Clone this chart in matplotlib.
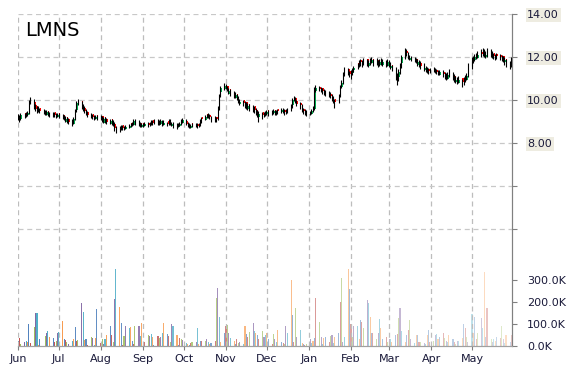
import matplotlib
matplotlib.use("Agg")
import matplotlib.pyplot as plt
import matplotlib.dates as mdates
from matplotlib.colors import to_rgba
import pandas as pd
import numpy as np

title = "LMNS"
start_date = "2016-06-01"

opens = [
    9.05, 9.25, 9.1, 9.4, 9.2, 9.3, 9.6, 9.85, 9.9, 9.75, 9.7, 9.45, 9.65, 9.55, 9.5, 9.3, 9.5, 9.4, 9.2, 9.45, 9.35, 9.2,
    9.4, 9.1, 9.3, 9.0, 9.2, 9.1, 9.05, 8.9, 9.2, 9.55, 9.75, 9.95, 9.5, 9.65, 9.55, 9.45, 9.15, 9.35, 9.05, 9.1, 9.3,
    9.05, 9.25, 8.95, 9.2, 9.1, 8.9, 9.1, 9.0, 8.9, 8.75, 8.5, 8.6, 8.85, 8.6, 8.65, 8.7, 8.95, 8.8, 8.85, 9.05, 8.8, 8.95, 8.75,
    8.95, 8.8, 8.95, 8.8, 8.85, 9.05, 8.9, 9.05, 8.85, 8.9, 9.0, 8.85, 9.0, 8.85, 9.05, 8.8, 8.95, 8.9, 8.75, 8.8, 8.9, 8.95,
    9.0, 8.75, 8.9, 8.7, 8.95, 8.75, 8.9, 8.75, 8.9, 9.2, 9.05, 9.35, 9.15, 9.3, 9.2, 9.0, 9.2, 9.1, 9.7, 10.35, 10.5,
    10.7, 10.65, 10.3, 10.5, 10.3, 10.1, 10.3, 10.15, 9.8, 10.0, 9.65, 9.9, 9.6, 9.8, 9.5, 9.7, 9.6, 9.55, 9.2, 9.45, 9.2, 9.3,
    9.35, 9.55, 9.3, 9.4, 9.55, 9.35, 9.6, 9.45, 9.6, 9.55, 9.35, 9.45, 9.55, 9.75, 9.95, 10.1, 9.95, 9.85, 9.7, 9.6, 9.35, 9.5,
    9.3, 9.35, 9.45, 9.6, 10.4, 10.6, 10.35, 10.55, 10.25, 10.4, 10.15, 10.3, 10.25, 9.9, 10.05, 9.85, 10.25, 10.6, 10.85, 11.15, 11.45, 11.35,
    11.05, 11.25, 11.4, 11.7, 11.55, 11.85, 11.6, 11.7, 11.9, 11.6, 11.7, 11.7, 11.9, 11.65, 11.85, 11.65, 11.9, 11.65, 11.8, 11.6,
    11.8, 11.5, 11.65, 11.45, 11.15, 11.05, 11.4, 11.7, 12.05, 12.3, 12.15, 11.85, 12.0, 11.75, 11.9, 11.65, 11.8, 11.7, 11.4, 11.55, 11.3, 11.45, 11.3,
    11.5, 11.25, 11.4, 11.35, 11.15, 11.3, 11.25, 11.2, 11.0, 11.35, 11.2, 11.1, 10.85, 11.0, 10.8, 11.0, 10.75, 10.85, 10.95, 11.15,
    11.55, 11.95, 11.85, 12.15, 11.95, 12.25, 12.05, 12.3, 12.0, 12.05, 12.3, 12.0, 12.2, 11.9, 12.15, 12.1, 11.85, 12.05, 11.75, 11.9, 11.75, 11.55,
]

closes = [
    9.2, 9.1, 9.3, 9.25, 9.35, 9.4, 9.9, 10.0, 9.7, 9.6, 9.55, 9.6, 9.5, 9.45, 9.4, 9.45, 9.35, 9.3, 9.35, 9.3, 9.25, 9.3,
    9.25, 9.2, 9.15, 9.1, 9.05, 9.0, 8.95, 9.1, 9.5, 9.85, 9.9, 9.7, 9.6, 9.5, 9.4, 9.3, 9.25, 9.2, 9.15, 9.2, 9.15,
    9.15, 9.1, 9.1, 9.05, 9.0, 9.0, 8.95, 8.9, 8.7, 8.6, 8.65, 8.75, 8.7, 8.7, 8.75, 8.8, 8.85, 8.9, 9.0, 8.95, 8.9, 8.85, 8.85,
    8.85, 8.9, 8.85, 8.9, 8.95, 8.95, 9.0, 8.95, 8.95, 9.0, 8.9, 8.95, 8.9, 9.0, 8.95, 8.9, 8.85, 8.8, 8.85, 8.9, 9.0, 9.05,
    8.9, 8.85, 8.8, 8.8, 8.85, 8.85, 8.8, 8.85, 9.0, 9.1, 9.2, 9.25, 9.3, 9.2, 9.1, 9.15, 9.1, 9.6, 10.2, 10.55, 10.65,
    10.6, 10.5, 10.4, 10.35, 10.2, 10.25, 10.15, 10.0, 9.9, 9.85, 9.8, 9.75, 9.7, 9.65, 9.6, 9.55, 9.5, 9.4, 9.35, 9.3, 9.35, 9.4,
    9.45, 9.4, 9.45, 9.5, 9.4, 9.45, 9.5, 9.55, 9.5, 9.45, 9.5, 9.55, 9.7, 10.0, 10.1, 9.95, 9.8, 9.75, 9.6, 9.5, 9.45, 9.4,
    9.4, 9.5, 9.6, 10.4, 10.55, 10.5, 10.45, 10.4, 10.35, 10.3, 10.25, 10.2, 10.1, 10.0, 9.9, 10.2, 10.6, 10.8, 11.2, 11.4, 11.3, 11.2,
    11.2, 11.35, 11.5, 11.6, 11.7, 11.75, 11.7, 11.8, 11.75, 11.7, 11.8, 11.85, 11.75, 11.8, 11.7, 11.75, 11.8, 11.75, 11.7, 11.75,
    11.7, 11.6, 11.5, 11.2, 11.0, 11.3, 11.6, 12.0, 12.25, 12.2, 12.0, 11.95, 11.9, 11.85, 11.8, 11.75, 11.7, 11.6, 11.5, 11.45, 11.4, 11.35, 11.4,
    11.4, 11.35, 11.3, 11.25, 11.3, 11.2, 11.15, 11.1, 11.15, 11.2, 11.1, 11.0, 10.95, 10.9, 10.95, 10.85, 10.9, 11.0, 11.1, 11.5,
    11.8, 11.9, 12.0, 12.05, 12.1, 12.15, 12.2, 12.15, 12.1, 12.2, 12.15, 12.1, 12.05, 12.0, 12.05, 12.0, 11.95, 11.9, 11.85, 11.7, 11.6, 11.8,
]

highs = [
    9.35, 9.3, 9.4, 9.4, 9.45, 9.5, 10.0, 10.15, 10.05, 9.8, 9.7, 9.7, 9.65, 9.6, 9.55, 9.55, 9.5, 9.45, 9.45, 9.45, 9.4, 9.4,
    9.4, 9.35, 9.3, 9.25, 9.2, 9.15, 9.1, 9.2, 9.6, 9.95, 10.05, 9.95, 9.8, 9.7, 9.6, 9.5, 9.4, 9.35, 9.3, 9.3, 9.3,
    9.3, 9.25, 9.2, 9.2, 9.15, 9.1, 9.1, 9.05, 9.0, 8.8, 8.8, 8.85, 8.85, 8.8, 8.85, 8.9, 8.95, 9.0, 9.1, 9.1, 9.05, 9.0, 8.95,
    8.95, 9.0, 9.0, 9.0, 9.05, 9.05, 9.1, 9.1, 9.05, 9.1, 9.05, 9.05, 9.0, 9.1, 9.1, 9.0, 9.0, 8.95, 8.95, 9.0, 9.1, 9.15,
    9.1, 9.0, 8.95, 8.9, 8.95, 8.95, 8.95, 8.95, 9.1, 9.2, 9.3, 9.35, 9.4, 9.35, 9.25, 9.25, 9.2, 9.7, 10.3, 10.65, 10.8,
    10.75, 10.65, 10.55, 10.5, 10.4, 10.35, 10.3, 10.2, 10.05, 10.0, 9.95, 9.9, 9.85, 9.8, 9.75, 9.7, 9.65, 9.55, 9.5, 9.45, 9.45, 9.5,
    9.55, 9.55, 9.55, 9.6, 9.55, 9.55, 9.6, 9.65, 9.65, 9.6, 9.6, 9.65, 9.8, 10.1, 10.2, 10.15, 10.0, 9.9, 9.8, 9.65, 9.6, 9.55,
    9.5, 9.6, 9.7, 10.6, 10.7, 10.65, 10.6, 10.55, 10.5, 10.45, 10.4, 10.35, 10.3, 10.2, 10.05, 10.3, 10.7, 10.95, 11.3, 11.55, 11.5, 11.35,
    11.4, 11.5, 11.6, 11.7, 11.85, 11.9, 11.85, 11.95, 11.9, 11.85, 11.95, 12.0, 11.9, 11.95, 11.85, 11.9, 11.95, 11.9, 11.85, 11.9,
    11.85, 11.75, 11.65, 11.55, 11.25, 11.45, 11.7, 12.1, 12.4, 12.35, 12.25, 12.1, 12.05, 12.0, 11.95, 11.9, 11.85, 11.8, 11.7, 11.6, 11.55, 11.5, 11.5,
    11.55, 11.5, 11.45, 11.4, 11.4, 11.4, 11.3, 11.25, 11.3, 11.45, 11.3, 11.2, 11.1, 11.05, 11.1, 11.0, 11.05, 11.15, 11.25, 11.7,
    12.0, 12.05, 12.15, 12.2, 12.3, 12.35, 12.4, 12.35, 12.3, 12.4, 12.35, 12.3, 12.2, 12.15, 12.2, 12.15, 12.1, 12.05, 12.0, 11.9, 11.8, 12.0,
]

lows = [
    9.05, 9.0, 9.05, 9.15, 9.2, 9.25, 9.35, 9.8, 9.6, 9.5, 9.4, 9.45, 9.4, 9.35, 9.3, 9.3, 9.25, 9.2, 9.25, 9.2, 9.15, 9.2,
    9.15, 9.1, 9.05, 9.0, 8.95, 8.9, 8.8, 8.9, 9.05, 9.45, 9.75, 9.6, 9.5, 9.4, 9.3, 9.2, 9.15, 9.1, 9.05, 9.1, 9.05,
    9.05, 9.0, 9.0, 8.95, 8.9, 8.9, 8.85, 8.8, 8.55, 8.45, 8.5, 8.6, 8.6, 8.6, 8.65, 8.7, 8.75, 8.8, 8.85, 8.85, 8.8, 8.75, 8.75,
    8.75, 8.8, 8.75, 8.8, 8.85, 8.85, 8.9, 8.85, 8.85, 8.9, 8.8, 8.85, 8.8, 8.85, 8.85, 8.8, 8.7, 8.65, 8.75, 8.8, 8.85, 8.95,
    8.85, 8.75, 8.7, 8.7, 8.75, 8.75, 8.7, 8.75, 8.8, 8.95, 9.05, 9.15, 9.2, 9.1, 9.0, 9.05, 9.0, 9.05, 9.55, 10.15, 10.45,
    10.5, 10.4, 10.3, 10.2, 10.1, 10.1, 10.0, 9.85, 9.75, 9.7, 9.65, 9.6, 9.55, 9.5, 9.45, 9.4, 9.3, 9.2, 9.0, 9.1, 9.2, 9.25,
    9.3, 9.25, 9.3, 9.35, 9.3, 9.3, 9.35, 9.4, 9.4, 9.3, 9.35, 9.4, 9.5, 9.65, 9.95, 9.85, 9.7, 9.6, 9.45, 9.35, 9.3, 9.25,
    9.3, 9.35, 9.45, 9.55, 10.35, 10.4, 10.35, 10.3, 10.25, 10.2, 10.15, 10.1, 9.95, 9.85, 9.65, 9.85, 10.15, 10.55, 10.75, 11.1, 11.15, 11.05,
    11.0, 11.15, 11.3, 11.45, 11.55, 11.6, 11.55, 11.65, 11.6, 11.55, 11.65, 11.7, 11.6, 11.65, 11.55, 11.6, 11.65, 11.6, 11.55, 11.6,
    11.55, 11.45, 11.35, 10.95, 10.7, 10.9, 11.2, 11.5, 11.9, 12.05, 11.9, 11.85, 11.8, 11.75, 11.7, 11.6, 11.55, 11.45, 11.35, 11.3, 11.25, 11.2, 11.25,
    11.3, 11.25, 11.2, 11.15, 11.15, 11.05, 11.0, 10.95, 11.0, 11.05, 10.95, 10.85, 10.8, 10.75, 10.8, 10.6, 10.7, 10.85, 10.95, 11.05,
    11.45, 11.7, 11.8, 11.9, 11.95, 12.0, 12.05, 12.0, 11.95, 12.0, 12.0, 11.95, 11.9, 11.85, 11.9, 11.85, 11.8, 11.75, 11.65, 11.55, 11.45, 11.55,
]

volumes_k = [
    25, 35, 10, 20, 25, 20, 100, 15, 85, 150, 150, 5, 30, 0, 45, 60, 68, 40, 38, 20, 25, 60,
    62, 114, 30, 28, 20, 10, 25, 30, 85, 25, 28, 194, 156, 28, 30, 5, 40, 35, 5, 35, 167,
    15, 30, 10, 30, 50, 92, 50, 20, 214, 350, 179, 104, 5, 45, 90, 80, 85, 25, 10, 90, 90, 45, 105,
    10, 20, 50, 45, 55, 40, 5, 45, 35, 42, 60, 106, 55, 45, 20, 100, 90, 50, 5, 35, 30, 28,
    15, 10, 5, 15, 18, 20, 80, 10, 25, 22, 25, 30, 20, 10, 15, 25, 220, 264, 133, 20, 60,
    90, 95, 60, 35, 25, 10, 30, 15, 20, 10, 93, 55, 40, 65, 105, 70, 60, 50, 30, 70, 40, 50,
    60, 30, 10, 55, 30, 20, 75, 20, 15, 10, 90, 60, 300, 141, 20, 174, 40, 75, 15, 10, 5, 8,
    30, 15, 25, 35, 220, 110, 40, 10, 35, 40, 20, 45, 50, 15, 40, 60, 198, 310, 20, 40, 348, 258,
    100, 40, 90, 90, 30, 120, 110, 80, 209, 195, 130, 60, 60, 30, 60, 121, 80, 30, 40, 20,
    30, 30, 20, 50, 55, 126, 171, 70, 20, 50, 75, 120, 30, 15, 50, 50, 20, 20, 15, 10, 50, 75, 20,
    25, 50, 55, 30, 40, 60, 35, 25, 20, 50, 30, 20, 10, 25, 25, 35, 100, 80, 40, 20,
    145, 60, 130, 30, 60, 126, 80, 336, 40, 171, 30, 20, 30, 25, 40, 35, 90, 30, 15, 50, 20, 50,
]

price_ticks = [4, 6, 8, 10, 12, 14]
price_labels = ["", "", "8.00", "10.00", "12.00", "14.00"]
vol_ticks_k = [0, 100, 200, 300]
vol_labels = ["0.0K", "100.0K", "200.0K", "300.0K"]

vol_palette = ["#4F81BD", "#C0504D", "#9BBB59", "#8064A2", "#4BACC6", "#F79646"]

n = min(len(opens), len(closes), len(highs), len(lows), len(volumes_k))
opens = opens[:n]; closes = closes[:n]; highs = highs[:n]; lows = lows[:n]; volumes_k = volumes_k[:n]
dates = pd.bdate_range(start_date, periods=n)
xd = mdates.date2num(dates.to_pydatetime())

fig = plt.figure(figsize=(5.7, 3.7), dpi=100)
ax = fig.add_axes([18 / 570, 24 / 370, 494 / 570, 332 / 370])
axv = ax.twinx()

axv.set_zorder(1)
ax.set_zorder(2)
ax.patch.set_visible(False)

alphas = np.linspace(1.0, 0.3, n)
vcols = [to_rgba(vol_palette[i % len(vol_palette)], alphas[i]) for i in range(n)]
axv.bar(xd, [v * 1000 for v in volumes_k], width=0.8, color=vcols, linewidth=0,
        antialiased=False)
axv.set_ylim(0, 332 / 22 * 100000)
axv.set_yticks([v * 1000 for v in vol_ticks_k])
axv.set_yticklabels(vol_labels)

# candles
up_col = "#00B050"
dn_col = "#FF0000"
hi = [max(h, o, c) for h, o, c in zip(highs, opens, closes)]
lo = [min(l, o, c) for l, o, c in zip(lows, opens, closes)]
ax.vlines(xd - 0.2, lo, hi, color="black", linewidth=0.8)
body_bottom = [min(o, c) for o, c in zip(opens, closes)]
body_h = [max(abs(c - o), 0.04) for o, c in zip(opens, closes)]
bcols = [up_col if c >= o else dn_col for o, c in zip(opens, closes)]
ax.bar(xd + 0.45, body_h, bottom=body_bottom, width=0.9, color=bcols, linewidth=0,
       antialiased=False)

ax.set_ylim(14 - 332 / 21.5, 14)
ax.set_xlim(mdates.date2num(pd.Timestamp("2016-06-01")),
            mdates.date2num(pd.Timestamp("2017-05-30 10:00")))

ax.yaxis.tick_right()
ax.set_yticks(price_ticks)
ax.set_yticklabels(price_labels)
label_col = "#1A1A3A"
for lbl in ax.get_yticklabels():
    lbl.set_color(label_col)
    lbl.set_fontsize(8)
    if lbl.get_text():
        lbl.set_bbox(dict(facecolor="#EEECE1", edgecolor="none", pad=1.2))
ax.tick_params(axis="y", length=3.5, width=0.8, color="#808080", pad=7.5)
axv.tick_params(axis="y", length=3.5, width=0.8, color="#808080", pad=7.5,
                labelsize=8, labelcolor=label_col)

ax.grid(axis="y", color="#C8C8C8", linestyle=(0, (4, 3)), linewidth=0.9)
ax.grid(axis="x", color="#BDBDBD", linestyle=(0, (4, 3)), linewidth=0.9)
ax.set_axisbelow(True)

ax.xaxis.set_major_locator(mdates.MonthLocator())
ax.xaxis.set_major_formatter(mdates.DateFormatter("%b"))
ax.tick_params(axis="x", length=3, color="#808080", labelsize=8, labelcolor=label_col, pad=3)
axv.tick_params(axis="x", length=0)

for a in (ax, axv):
    for s in ("left", "top"):
        a.spines[s].set_visible(False)
    a.spines["right"].set_color("#808080")
    a.spines["bottom"].set_color("#A0A0A0")

fig.text(25 / 570, 1 - 31 / 370, title, fontsize=14, color="black", va="center", ha="left")

fig.savefig("out.png", dpi=100)
